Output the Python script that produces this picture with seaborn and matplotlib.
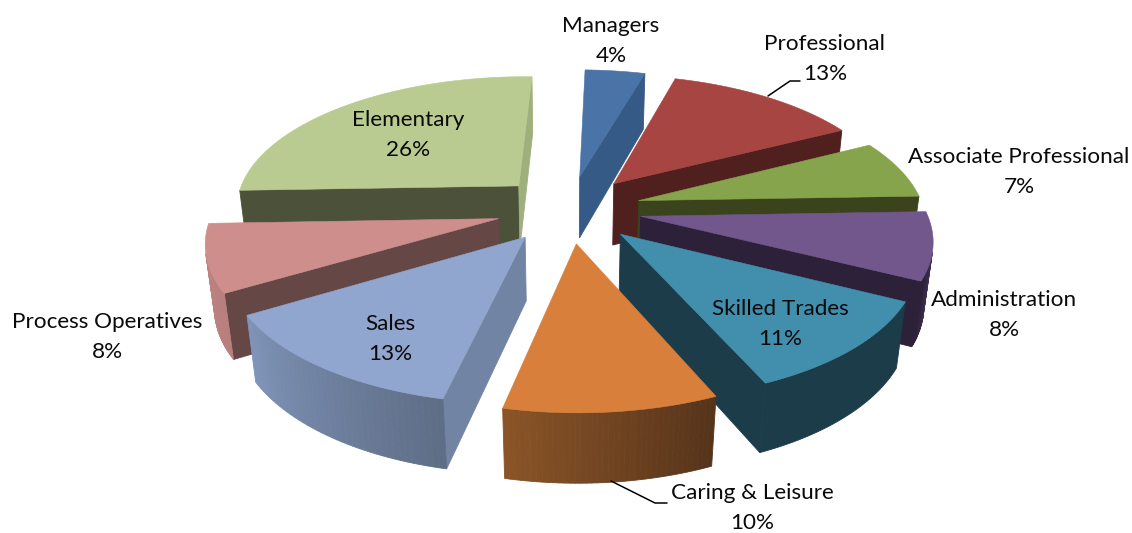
import numpy as np
import seaborn as sns
import matplotlib.pyplot as plt

categories = ['Managers', 'Professional', 'Associate Professional', 'Administration',
              'Skilled Trades', 'Caring & Leisure', 'Sales', 'Process Operatives', 'Elementary']
shares = [4, 13, 7, 8, 11, 10, 13, 8, 26]

top_colors = ['#4A73A8', '#A64542', '#86A44B', '#71578C', '#418FAD', '#D77F3B', '#91A6CE', '#CE8E8C', '#B9CB91']
wall_colors = ['#355A85', '#4F201E', '#3B431D', '#2C2138', '#1B3C48', '#7A4A22', '#7284A3', '#654846', '#4C513A']
end_wall_colors = ['#355A85', '#4F201E', '#3B431D', '#2C2138', '#1B3C48', '#7A4A22', '#7284A3', '#654846', '#A0B07D']
rim_start = ['#355A85', '#4F201E', '#3B431D', '#6A5285', '#1B3C48', '#56341A', '#5F6E87', '#B87F7D', '#A0B07D']
rim_end = ['#355A85', '#4F201E', '#3B431D', '#2C2138', '#1B3C48', '#8A5427', '#7F94B8', '#C08583', '#4C513A']

label_pos = [(611, 41), (825, 59), (1019, 172), (1004, 315), (780, 324),
             (752, 508), (390, 339), (107, 337), (408, 135)]

# fake 3d pie: camera numbers tuned by eye against the picture
cx, cy = 569, 209
rx, ry = 285, 132
thick = 64
explode = 0.255
persp = 0.15
turn = np.radians(1.6)


def project(X, Y, Z):
    s = 1 / (1 + persp * Y + 0.025 * Z)
    return cx + rx * X * s, cy + (-ry * Y + thick * Z) * s


def area(px, py):
    return 0.5 * np.sum(px * np.roll(py, -1) - np.roll(px, -1) * py)


def wall(ax, X, Y, color):
    # X, Y: points along one edge, walking round the slice clockwise
    xt, yt = project(X, Y, 0)
    xb, yb = project(X, Y, 1)
    px = np.r_[xt, xb[::-1]]
    py = np.r_[yt, yb[::-1]]
    if area(px, py) < 0:
        ax.fill(px, py, color=color, lw=0.6)


sns.set_theme(style='white')
plt.rcParams['font.family'] = ['Lato', 'DejaVu Sans']

fig, ax = plt.subplots(figsize=(11.32, 5.33), dpi=100)
fig.subplots_adjust(0, 0, 1, 1)
ax.set_xlim(0, 1132)
ax.set_ylim(533, 0)
ax.axis('off')

ends = np.cumsum(shares) / sum(shares) * 2 * np.pi + turn
starts = ends - np.array(shares) / sum(shares) * 2 * np.pi

draw_order = [0, 8, 1, 2, 3, 7, 4, 6, 5]
for i in draw_order:
    mid = (starts[i] + ends[i]) / 2
    tx, ty = explode * np.sin(mid), explode * np.cos(mid)
    t = np.linspace(starts[i], ends[i], 40)
    ox, oy = tx + np.sin(t), ty + np.cos(t)

    wall(ax, np.array([tx, ox[0]]), np.array([ty, oy[0]]), wall_colors[i])
    wall(ax, np.array([ox[-1], tx]), np.array([oy[-1], ty]), end_wall_colors[i])
    if rim_start[i] == rim_end[i]:
        wall(ax, ox, oy, rim_start[i])
    else:
        shades = sns.blend_palette([rim_start[i], rim_end[i]], len(t) - 1)
        for j in range(len(t) - 1):
            wall(ax, ox[j:j + 2], oy[j:j + 2], shades[j])

    px, py = project(np.r_[tx, ox], np.r_[ty, oy], 0)
    ax.fill(px, py, color=top_colors[i], lw=0.4)

for name, value, (lx, ly) in zip(categories, shares, label_pos):
    ax.text(lx, ly, f'{name}\n{value}%', ha='center', va='center', fontsize=16.2,
            color='#0a0a0a', linespacing=1.6, zorder=5)

# leader lines
ax.plot([768, 790, 800], [96, 81, 81], color='black', lw=1.1, zorder=4)
ax.plot([611, 655, 667], [481, 503, 503], color='black', lw=1.1, zorder=4)

fig.savefig('out.png', dpi=100)
